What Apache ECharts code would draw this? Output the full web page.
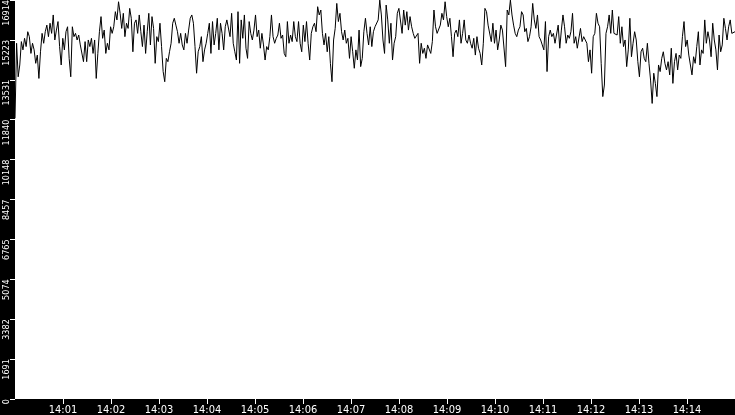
<!DOCTYPE html>
<html>
<head>
<meta charset="utf-8">
<style>
html,body{margin:0;padding:0;background:#000;}
#chart{width:735px;height:415px;}
</style>
<script src="https://cdn.jsdelivr.net/npm/echarts@6/dist/echarts.min.js"></script>
</head>
<body>
<div id="chart"></div>
<script>
// time span in seconds (14:00:00 - 14:15:00)
var spanSeconds = 900;
var xTickLabels = ['14:00','14:01','14:02','14:03','14:04','14:05','14:06','14:07','14:08','14:09','14:10','14:11','14:12','14:13','14:14','14:15'];
var xTickValues = [60,120,180,240,300,360,420,480,540,600,660,720,780,840];
var yMax = 16914.5;
var ySteps = 10;

// samples, roughly every 2 seconds
var seg1 = [11900,15080,13660,14160,15150,14800,15290,14940,15570,15360,14650,15080,14800,14230,14580,13590,14720,15500,15080,15570,15850,15360,15930,15500,16280,15220,15640,16000,14940,14160,15290,14800,15570,15780,14440,13660,15780,15360,15500,15220,15430,15010,15080,14300,15150,14300,15220,14940,15290,14650,15220,13590,14650,15570,16210,15290,15640,14650,15080,14800,15780,15500,15780,16420,16070,16840,16350,15710,16350,15360,15930,15710,16560,16140,14720];
var seg2 = [15930,16070,15500,16280,15570,14940,15850,14650,15570,16350,15010,16210,15710,14230,15360,15150,15930,14940,13880,13450,14440,14300,14720,15080,15930,16140,15850,15570,15080,15500,15010,14800,15500,15080,15640,16140,16280,15930,14940,13810,14720,14940,15360,14300,14800,15080,15500,15930,14650,16000,15010,15500,16140,14800,15930,15500,14800,15780,16070,16140,15360,16350,15080,14720,14370,16420,14230,16070,15290,16280,14870,14440,16000,15500,15220];
var seg3 = [15640,16280,15360,15640,14870,15500,15010,14370,14940,14800,15360,16280,15360,15080,15290,15430,15930,15290,15430,14650,14510,16000,15080,15430,15150,16000,15360,15150,16000,15080,14720,15850,15150,16000,15080,14370,15500,15780,15930,15570,16630,16280,16490,15500,15010,15500,14720,15360,14230,13450,15220,15710,16770,16000,16350,15570,15220,15640,15080,15290,14440,15360,14720,14020,14800,14370,15640,14090,14440,15570,16140,15500,15010,15780,14940];
var seg4 = [15570,15780,15710,16070,16910,16280,15220,14650,16700,16070,15080,15930,14370,15080,15360,16350,16560,16630,15500,16490,15850,16420,15640,16210,15780,15500,15290,15220,15500,14230,15080,14650,14870,14440,15010,15080,14650,15150,16490,15780,15500,15430,15850,16350,16070,16840,16210,15780,16140,15360,14510,15500,15640,15360,16070,15080,15500,16070,15220,15080,15430,15080,14870,15290,14580,15360,14870,14650,14160,15080,16560,16420,15850,15780,15150];
var seg5 = [15930,15080,15640,14800,15220,15850,15640,15710,14090,16490,16280,16910,16280,15850,15500,15360,15640,15780,16420,16280,15570,15710,15150,15360,15780,16770,16070,15710,16280,15360,15220,15010,14800,16000,13880,15360,15640,15360,15500,15080,15150,15850,14870,15640,16280,15780,15080,15430,15290,15570,16350,15080,15360,14870,14800,15710,15150,15360,15290,15080,14300,14800,13810,15360,15500,16350,15930,15780,14230,12820,13310,15500,15780,16280,15500,16490,15500];
var seg6 = [15500,15430,16210,15080,15780,14940,15220,14090,14800,16140,14510,15080,15570,15220,14300,13660,14720,14870,14440,14300,15080,14230,13520,12530,13810,13380,12820,14160,13880,14440,14720,14230,13950,14300,13740,14870,13380,14300,14650,13950,14580,14440,15360,16000,14940,15220,14580,14650,13740,14510,14230,14940,15570,14160,14800,14650,16070,15080,15570,15220,14510,15930,15220,14800,13950,15430,14720,15010,16140,15710,15220,15780,16070,15500,15430,15570];

var values = [].concat(seg1, seg2, seg3, seg4, seg5, seg6);
var step = spanSeconds / (values.length - 1);
var seriesData = values.map(function (v, i) { return [i * step, v]; });

var fontFamily = '"Liberation Sans Narrow", "DejaVu Sans Condensed", "Liberation Sans", sans-serif';

var chart = echarts.init(document.getElementById('chart'), null, {renderer: 'canvas'});
chart.setOption({
  animation: false,
  backgroundColor: '#000',
  grid: {
    left: 15, right: 0, top: 0, bottom: 16,
    show: true, backgroundColor: '#fff', borderWidth: 0,
    containLabel: false,
    outerBoundsMode: 'none'
  },
  xAxis: {
    type: 'value',
    min: 0, max: spanSeconds, interval: 60,
    axisLine: {show: false},
    splitLine: {show: false},
    axisTick: {show: true, inside: false, length: 5, lineStyle: {color: '#fff', width: 1}, customValues: xTickValues},
    axisLabel: {
      color: '#fff', fontFamily: fontFamily, fontSize: 11, margin: 6,
      customValues: xTickValues,
      formatter: function (v) { return xTickLabels[Math.round(v / 60)]; }
    }
  },
  yAxis: {
    type: 'value',
    min: 0, max: yMax, interval: yMax / ySteps,
    axisLine: {show: false},
    splitLine: {show: false},
    axisTick: {show: true, inside: false, length: 5, lineStyle: {color: '#fff', width: 1}},
    axisLabel: {
      color: '#fff', fontFamily: fontFamily, fontSize: 9, margin: 8,
      rotate: 90, align: 'right', verticalAlign: 'middle',
      showMinLabel: true, showMaxLabel: true,
      formatter: function (v) { return String(Math.floor(v + 1e-6)); }
    }
  },
  series: [{
    type: 'line',
    data: seriesData,
    showSymbol: false,
    symbol: 'none',
    sampling: null,
    lineStyle: {color: '#000', width: 1},
    clip: true
  }]
});
</script>
</body>
</html>
